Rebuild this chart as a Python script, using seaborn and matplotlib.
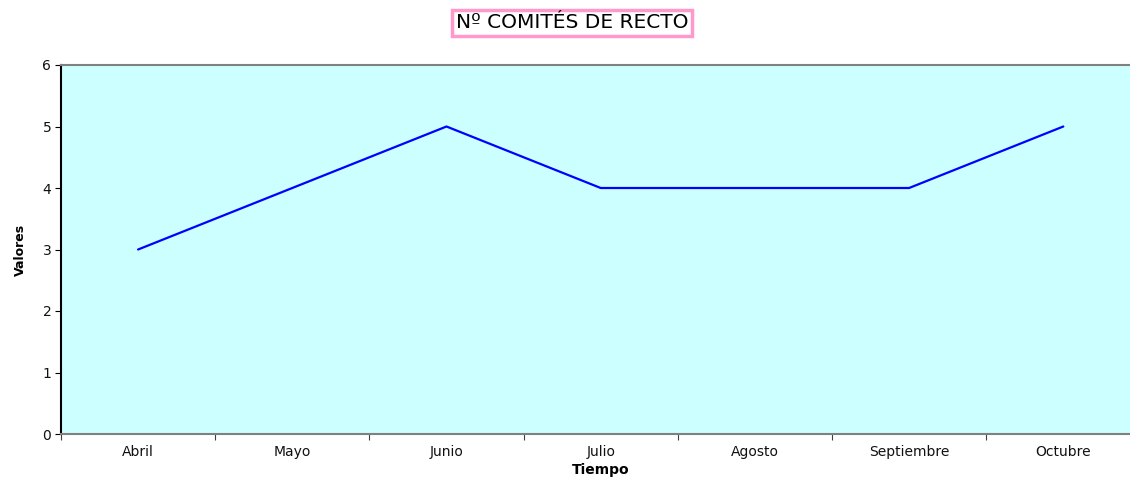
import pandas as pd
import numpy as np
import matplotlib.pyplot as plt
import seaborn as sns

months = ['Abril', 'Mayo', 'Junio', 'Julio', 'Agosto', 'Septiembre', 'Octubre']
valores = [3, 4, 5, 4, 4, 4, 5]
y_ticks = [0, 1, 2, 3, 4, 5, 6]

df = pd.DataFrame({'pos': np.arange(len(months)), 'valor': valores})

sns.set_style('white')
plt.rcParams['font.family'] = ['DejaVu Sans']

W, H = 1130, 478
fig = plt.figure(figsize=(W / 100, H / 100), dpi=100)
# plot area runs slightly past the right edge of the picture, as in the original
ax = fig.add_axes([61 / W, 1 - 434 / H, 7 * 154.2 / W, (434 - 65) / H])
ax.set_facecolor('#CCFFFF')

sns.lineplot(data=df, x='pos', y='valor', color='#0000FF', linewidth=1.6, ax=ax)

# category ticks between months, labels centred
ax.set_xlim(-0.5, len(months) - 0.5)
ax.set_xticks(np.arange(-0.5, len(months), 1.0))
ax.set_xticklabels([])
ax.set_xticks(np.arange(len(months)), minor=True)
ax.set_xticklabels(months, minor=True, fontsize=10, color='#111111')
ax.tick_params(axis='x', which='major', direction='out', length=4, color='#404040', bottom=True)
ax.tick_params(axis='x', which='minor', length=0, pad=8)

ax.set_ylim(0, 6)
ax.set_yticks(y_ticks)
ax.set_yticklabels([str(v) for v in y_ticks], fontsize=10, color='#111111')
ax.tick_params(axis='y', direction='out', length=4, color='black', left=True, pad=3)

for side in ['top', 'bottom']:
    ax.spines[side].set_color('#808080')
    ax.spines[side].set_linewidth(1.5)
ax.spines['left'].set_color('black')
ax.spines['left'].set_linewidth(1.5)
ax.spines['right'].set_visible(False)

ax.set_xlabel('Tiempo', fontsize=10, fontweight='bold', labelpad=3, color='black')
ax.set_ylabel('Valores', fontsize=9, fontweight='bold', labelpad=11, color='black')

fig.text(572 / W, 1 - 23 / H, 'Nº COMITÉS DE RECTO', ha='center', va='center', fontsize=14.5,
         color='black',
         bbox=dict(boxstyle='square,pad=0.18', facecolor='white', edgecolor='#FF99CC', linewidth=2.5))

fig.savefig('out.png', dpi=100)
